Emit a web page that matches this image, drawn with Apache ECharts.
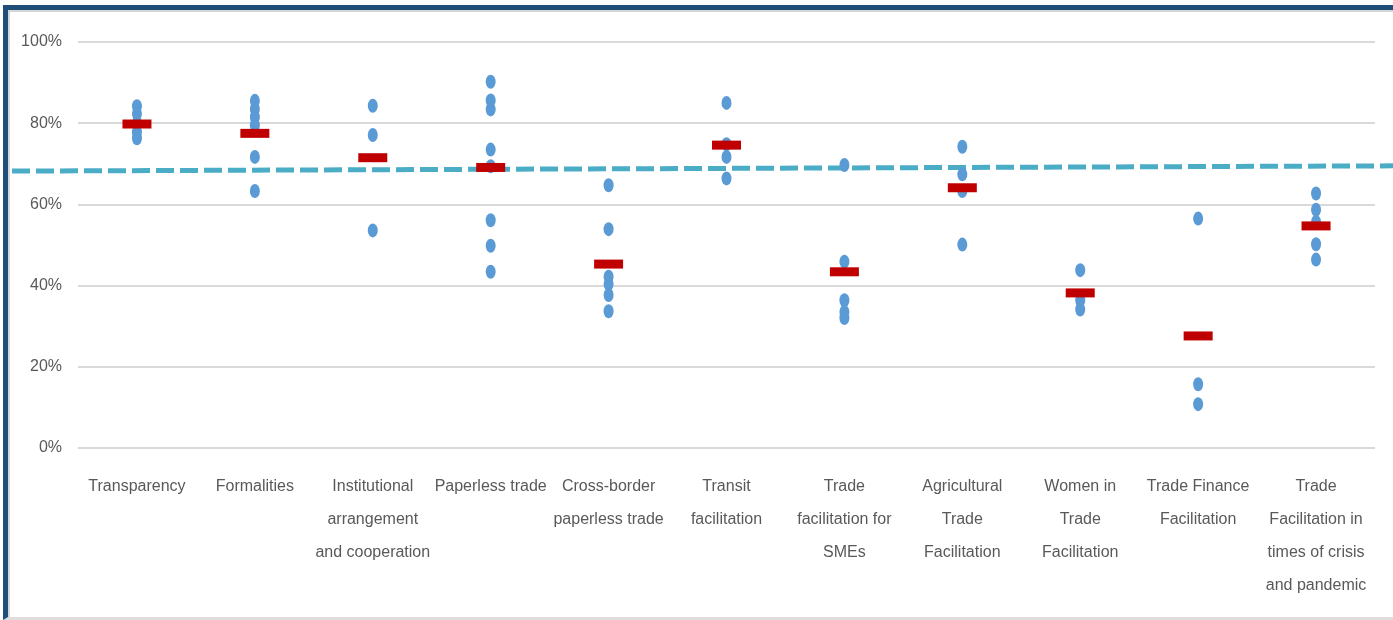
<!DOCTYPE html>
<html>
<head>
<meta charset="utf-8">
<script src="https://cdn.jsdelivr.net/npm/echarts@6/dist/echarts.min.js"></script>
<style>
  html, body { margin: 0; padding: 0; background: #fff; }
  #chart { position: absolute; left: 0; top: 0; width: 1393px; height: 620px; }
  #frame {
    position: absolute; left: 3px; top: 5px; right: 0; bottom: 0;
    border-top: 5px solid #1F4E79; border-left: 5px solid #1F4E79;
    border-bottom: 3px solid #dedede;
    box-shadow: inset 2px 2px 0 #d6d6d6;
    pointer-events: none;
  }
</style>
</head>
<body>
<div id="chart"></div>
<div id="frame"></div>
<script>
// categories (x axis)
var categories = [
  'Transparency',
  'Formalities',
  'Institutional\narrangement\nand cooperation',
  'Paperless trade',
  'Cross-border\npaperless trade',
  'Transit\nfacilitation',
  'Trade\nfacilitation for\nSMEs',
  'Agricultural\nTrade\nFacilitation',
  'Women in\nTrade\nFacilitation',
  'Trade Finance\nFacilitation',
  'Trade\nFacilitation in\ntimes of crisis\nand pandemic'
];

// individual scores per category (%)
var transparency = [84.2, 82.3, 80, 77.8, 76.3];
var formalities = [85.5, 83.5, 81.5, 79.5, 71.7, 63.3];
var institutional = [84.3, 77.1, 53.6];
var paperless = [90.2, 85.6, 83.4, 73.5, 69.4, 56.1, 49.8, 43.4];
var crossBorder = [64.7, 53.9, 42.2, 40.4, 37.7, 33.7];
var transit = [85, 74.8, 71.7, 66.4];
var smes = [69.7, 45.9, 36.4, 33.5, 32];
var agricultural = [74.2, 67.4, 63.3, 50.1];
var women = [43.8, 36.4, 34.1];
var tradeFinance = [56.5, 15.7, 10.8];
var crisis = [62.7, 58.7, 55.7, 50.2, 46.4];

// average per category (%)
var averages = [79.8, 77.5, 71.5, 69.1, 45.3, 74.6, 43.4, 64.1, 38.2, 27.6, 54.7];

// reference dashed line (start, end) in %
var refLine = [68.2, 69.5];

var yTicks = [0, 20, 40, 60, 80, 100];

var groups = [transparency, formalities, institutional, paperless, crossBorder,
  transit, smes, agricultural, women, tradeFinance, crisis];

var dotData = [];
groups.forEach(function(vals, i) {
  vals.forEach(function(v) {
    dotData.push([categories[i], v]);
  });
});

var avgData = averages.map(function(v, i) { return [categories[i], v]; });

var font = '"Liberation Sans", Arial, sans-serif';

var chart = echarts.init(document.getElementById('chart'));
var option = {
  animation: false,
  grid: [
    { left: 78, right: 18, top: 42, bottom: 172 },
    { left: 12, right: 0, top: 42, bottom: 172 }
  ],
  xAxis: [
    {
      type: 'category',
      gridIndex: 0,
      data: categories,
      boundaryGap: true,
      axisLine: { show: false },
      axisTick: { show: false },
      axisLabel: {
        interval: 0,
        margin: 22,
        color: '#595959',
        fontSize: 16,
        lineHeight: 33,
        fontFamily: font
      }
    },
    { type: 'value', gridIndex: 1, min: 0, max: 1, show: false }
  ],
  yAxis: [
    {
      type: 'value',
      gridIndex: 0,
      min: yTicks[0],
      max: yTicks[yTicks.length - 1],
      interval: 20,
      axisLine: { show: false },
      axisTick: { show: false },
      axisLabel: {
        margin: 16,
        color: '#595959',
        fontSize: 16,
        fontFamily: font,
        formatter: '{value}%'
      },
      splitLine: { lineStyle: { color: '#d9d9d9', width: 2 } }
    },
    { type: 'value', gridIndex: 1, min: 0, max: 100, show: false }
  ],
  series: [
    {
      type: 'line',
      xAxisIndex: 1,
      yAxisIndex: 1,
      data: [[0, refLine[0]], [1, refLine[1]]],
      symbol: 'none',
      z: 1,
      lineStyle: { color: '#4BACC6', width: 5, type: [18, 6] }
    },
    {
      type: 'scatter',
      data: dotData,
      symbol: 'circle',
      symbolSize: [10, 14],
      z: 2,
      itemStyle: { color: '#5B9BD5', opacity: 1 }
    },
    {
      type: 'scatter',
      data: avgData,
      symbol: 'rect',
      symbolSize: [29, 9],
      z: 3,
      itemStyle: { color: '#C00000', opacity: 1 }
    }
  ]
};
chart.setOption(option);
</script>
</body>
</html>
